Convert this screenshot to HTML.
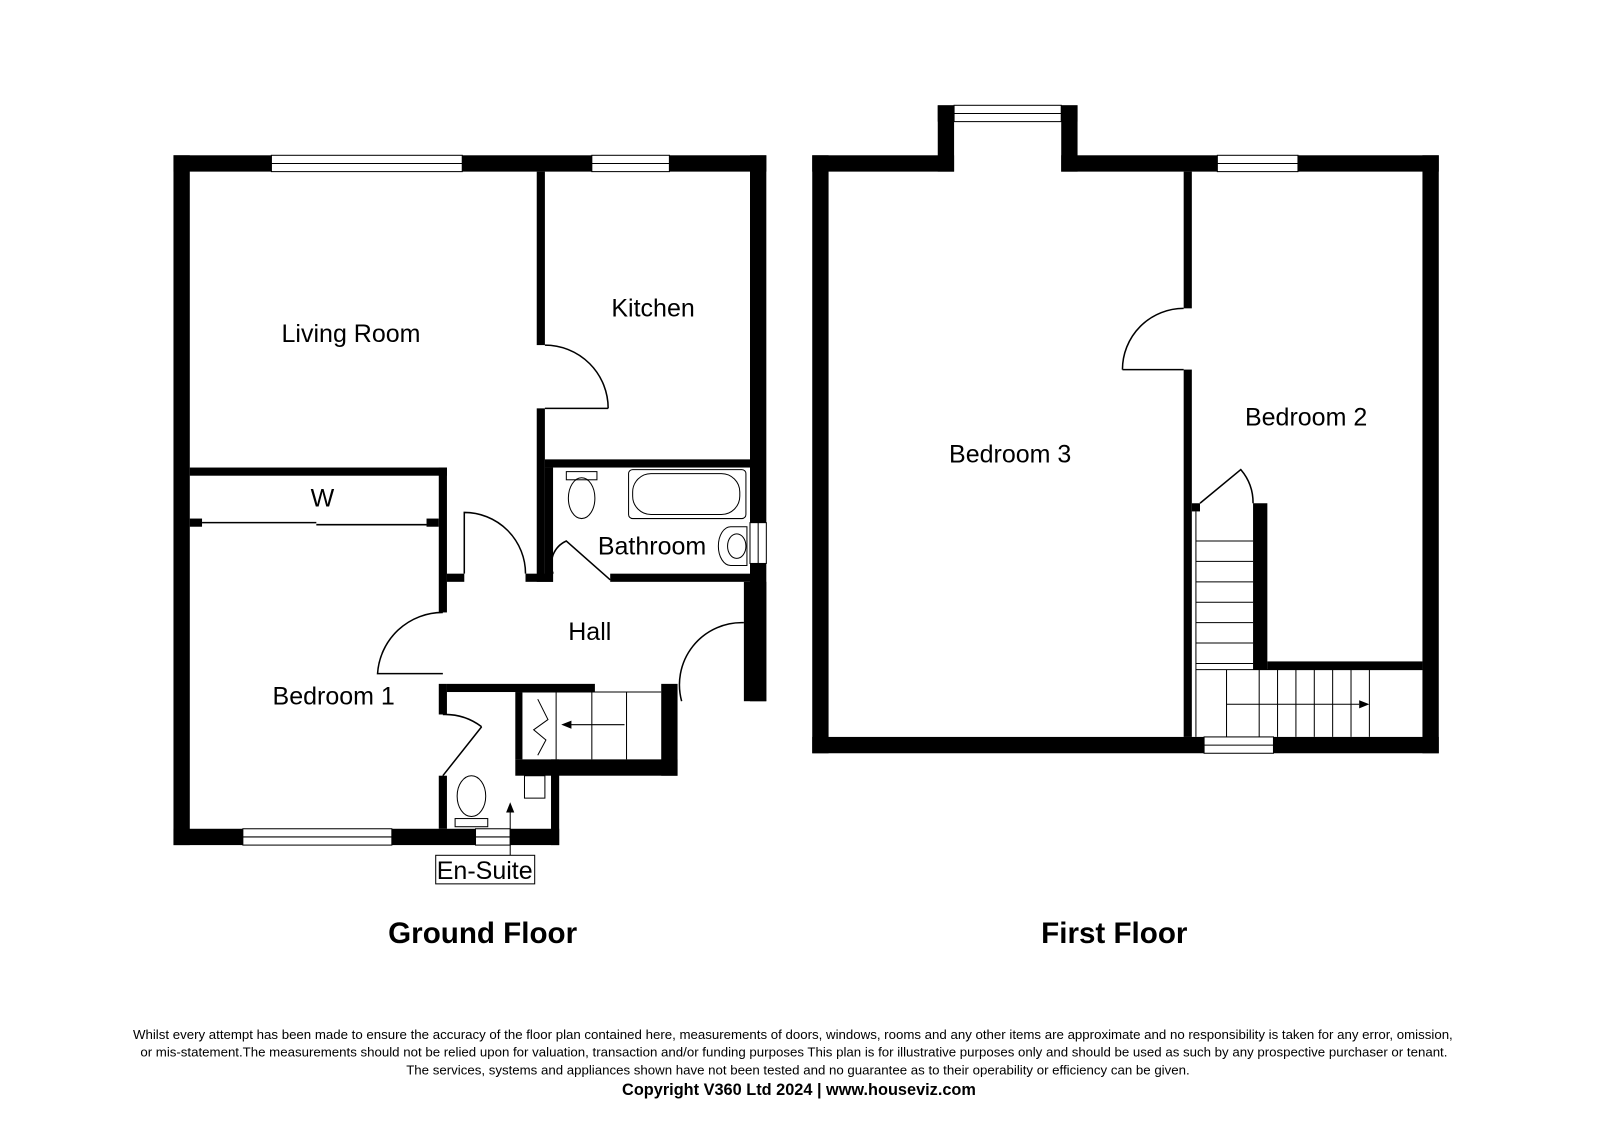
<!DOCTYPE html>
<html><head><meta charset="utf-8"><style>
html,body{margin:0;padding:0;background:#fff}
svg{display:block}
text{font-family:"Liberation Sans",Arial,sans-serif;fill:#000}
</style></head><body>
<svg width="1600" height="1131" viewBox="0 0 1568 1108" xmlns="http://www.w3.org/2000/svg">
<rect width="1568" height="1108" fill="#fff"/>
<g fill="#000">
<rect x="170" y="152" width="581" height="16"/>
<rect x="170" y="152" width="16" height="676"/>
<rect x="170" y="812" width="378" height="16"/>
<rect x="735" y="152" width="16" height="360"/>
<rect x="735" y="552" width="16" height="135"/>
<rect x="729" y="570" width="22" height="117"/>
<rect x="526" y="168" width="8" height="170"/>
<rect x="526" y="400" width="8" height="170"/>
<rect x="534" y="450" width="201" height="8"/>
<rect x="534" y="458" width="8" height="112"/>
<rect x="598" y="562" width="137" height="8"/>
<rect x="515" y="562" width="27" height="8"/>
<rect x="186" y="458" width="252" height="8"/>
<rect x="430" y="458" width="8" height="142"/>
<rect x="438" y="562" width="17" height="8"/>
<rect x="186" y="508" width="12" height="8"/>
<rect x="418" y="508" width="12" height="8"/>
<rect x="430" y="670" width="8" height="30"/>
<rect x="430" y="760" width="8" height="52"/>
<rect x="438" y="670" width="145" height="8"/>
<rect x="648" y="670" width="16" height="90"/>
<rect x="505" y="744" width="159" height="16"/>
<rect x="505" y="678" width="7" height="66"/>
<rect x="540" y="744" width="8" height="84"/>
<rect x="796" y="152" width="139" height="16"/>
<rect x="919" y="103" width="16" height="65"/>
<rect x="919" y="103" width="137" height="16"/>
<rect x="1040" y="103" width="16" height="65"/>
<rect x="1040" y="152" width="370" height="16"/>
<rect x="796" y="152" width="16" height="586"/>
<rect x="796" y="722" width="614" height="16"/>
<rect x="1394" y="152" width="16" height="586"/>
<rect x="1160" y="168" width="8" height="134"/>
<rect x="1160" y="362" width="8" height="360"/>
<rect x="1228" y="493" width="14" height="163"/>
<rect x="1242" y="648" width="152" height="8"/>
<rect x="1168" y="493" width="8" height="8"/>
</g>
<g fill="#fff" stroke="#000" stroke-width="1">
<rect x="266" y="152" width="187" height="16"/><line x1="266" y1="160" x2="453" y2="160"/>
<rect x="580" y="152" width="76" height="16"/><line x1="580" y1="160" x2="656" y2="160"/>
<rect x="238" y="812" width="146" height="16"/><line x1="238" y1="820" x2="384" y2="820"/>
<rect x="466" y="812" width="34" height="16"/><line x1="466" y1="820" x2="500" y2="820"/>
<rect x="735" y="512" width="16" height="40"/><line x1="743" y1="512" x2="743" y2="552"/>
<rect x="935" y="103" width="105" height="16"/><line x1="935" y1="111" x2="1040" y2="111"/>
<rect x="1193" y="152" width="79" height="16"/><line x1="1193" y1="160" x2="1272" y2="160"/>
<rect x="1180" y="722" width="68" height="16"/><line x1="1180" y1="730" x2="1248" y2="730"/>
</g>
<g fill="none" stroke="#000" stroke-width="1.5">
<path d="M534 400 L596 400 M534 338 A62 62 0 0 1 596 400"/>
<path d="M455 562 L455 502 A60 60 0 0 1 515 562"/>
<path d="M542 562 A25 25 0 0 1 555 530 L598 568"/>
<path d="M434 600 A64 64 0 0 0 370 660 L434 660"/>
<path d="M668 687 A61 61 0 0 1 729 610"/>
<path d="M434 760 L472 712 M434 700 A60 60 0 0 1 472 712"/>
<path d="M1100 362 L1160 362 M1100 362 A60 60 0 0 1 1160 302"/>
<path d="M1176 493 L1216 460 A50 50 0 0 1 1228 493"/>
<line x1="198" y1="512" x2="310" y2="512"/><line x1="310" y1="514" x2="418" y2="514"/>
</g>
<g fill="none" stroke="#000" stroke-width="1">
<rect x="616" y="460" width="115" height="48" rx="4"/>
<rect x="620" y="464" width="105" height="40" rx="18"/>
<ellipse cx="570" cy="488" rx="13" ry="20"/><rect x="555" y="462" width="30" height="8"/>
<path d="M716 516 h16 v38 h-16 a12 19 0 0 1 0-38z"/><ellipse cx="722" cy="535" rx="9" ry="12"/>
<ellipse cx="462" cy="780" rx="14" ry="20"/><rect x="446" y="802" width="32" height="8"/>
<path d="M514 760 h20 v22 h-20 z"/>
<path d="M512 678 h136 M545 678 v66 M580 678 v66 M614 678 v66"/>
<path d="M527 685 l10 20 l-14 10 l12 10 l-8 15"/>
<path d="M612 710 h-60"/>
<path d="M1172 501 v221 M1172 530 h56 M1172 550 h56 M1172 570 h56 M1172 590 h56 M1172 610 h56 M1172 630 h56 M1172 650 h56 M1172 656 h222 M1202 656 v66 M1234 656 v66 M1252 656 v66 M1270 656 v66 M1288 656 v66 M1306 656 v66 M1324 656 v66 M1342 656 v66 M1202 690 h130"/>
<rect x="427" y="838" width="97" height="28"/>
<line x1="500" y1="838" x2="500" y2="790"/>
</g>
<path d="M500 786 l-4 10 h8z" fill="#000"/>
<path d="M1342 690 l-10 -4 v8z M550 710 l10 -4 v8z" fill="#000"/>
<g font-size="24.5">
<text x="344" y="335" text-anchor="middle">Living Room</text>
<text x="640" y="310" text-anchor="middle">Kitchen</text>
<text x="316" y="496" text-anchor="middle">W</text>
<text x="639" y="543" text-anchor="middle">Bathroom</text>
<text x="578" y="627" text-anchor="middle">Hall</text>
<text x="327" y="690" text-anchor="middle">Bedroom 1</text>
<text x="475" y="861" text-anchor="middle">En-Suite</text>
<text x="990" y="453" text-anchor="middle">Bedroom 3</text>
<text x="1280" y="417" text-anchor="middle">Bedroom 2</text>
</g>
<g font-size="29" font-weight="bold">
<text x="473" y="924" text-anchor="middle">Ground Floor</text>
<text x="1092" y="924" text-anchor="middle">First Floor</text>
</g>
<g font-size="13" text-anchor="middle">
<text x="777" y="1018">Whilst every attempt has been made to ensure the accuracy of the floor plan contained here, measurements of doors, windows, rooms and any other items are approximate and no responsibility is taken for any error, omission,</text>
<text x="778" y="1035">or mis-statement.The measurements should not be relied upon for valuation, transaction and/or funding purposes This plan is for illustrative purposes only and should be used as such by any prospective purchaser or tenant.</text>
<text x="782" y="1053">The services, systems and appliances shown have not been tested and no guarantee as to their operability or efficiency can be given.</text>
<text x="783" y="1073" font-size="16" font-weight="bold">Copyright V360 Ltd 2024 | www.houseviz.com</text>
</g>
</svg>
</body></html>
